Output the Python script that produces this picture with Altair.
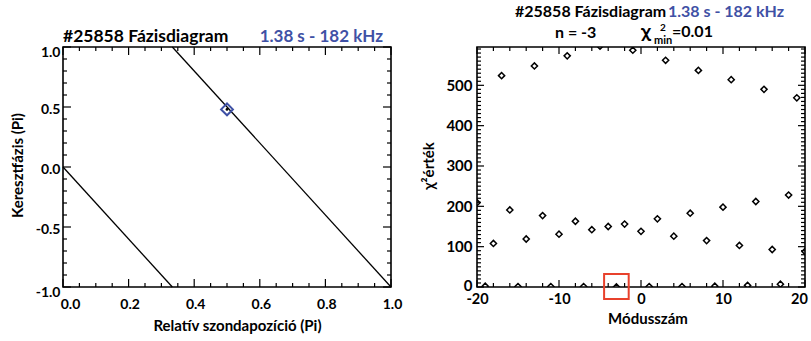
import altair as alt
import pandas as pd

# ---------------- left panel data ----------------
line_seg = ["a", "a", "b", "b"]
line_x = [0.0, 1 / 3, 1 / 3, 1.0]
line_y = [0.0, -1.0, 1.0, -1.0]
meas_x = [0.5]
meas_y = [0.48]

# ---------------- right panel data ----------------
modes = list(range(-20, 21))
chi2 = [209, 2, 108, 524, 191, 1, 119, 548, 177, 1, 131, 573, 163, 1, 142, 597,
        150, 0.01, 156, 587, 138, 1, 169, 562, 126, 1, 183, 537, 115, 2, 198, 514,
        103, 4, 212, 490, 93, 7, 228, 469, 88]
box_x = [-4.5]
box_x2 = [-1.5]
box_y = [-30]
box_y2 = [32]

# tick positions
lx_major = [0.0, 0.2, 0.4, 0.6, 0.8, 1.0]
lx_minor = [round(i * 0.05, 2) for i in range(21) if i % 4]
ly_major = [-1.0, -0.5, 0.0, 0.5, 1.0]
ly_minor = [round(-1 + i * 0.1, 2) for i in range(21) if i % 5]
rx_major = [-20, -10, 0, 10, 20]
rx_minor = [v for v in range(-20, 21, 2) if v % 10]
ry_major = [0, 100, 200, 300, 400, 500]
ry_minor = [v for v in range(0, 595, 10) if v % 100]

W, H = 328, 240
BLUE = "#3f51a5"
FONT = "Lato"

lx_scale = alt.Scale(domain=[0, 1], nice=False, zero=False)
ly_scale = alt.Scale(domain=[-1, 1], nice=False, zero=False)
rx_scale = alt.Scale(domain=[-20, 20], nice=False, zero=False)
ry_scale = alt.Scale(domain=[0, 595], nice=False, zero=False)

MINUS = "replace(format(datum.value, '{f}'), '\u2212', '-')"


def tick_layers(xmaj, xmin, ymaj, ymin, xs, ys, maj=7, mnr=4):
    layers = []
    for vals, L in ((xmaj, maj), (xmin, mnr)):
        base = alt.Chart(pd.DataFrame({"v": vals})).mark_rule(color="black", strokeWidth=1.2)
        layers.append(base.encode(x=alt.X("v:Q", scale=xs),
                                  y=alt.value(H), y2=alt.value(H - L)))
        layers.append(base.encode(x=alt.X("v:Q", scale=xs),
                                  y=alt.value(0), y2=alt.value(L)))
    for vals, L in ((ymaj, maj), (ymin, mnr)):
        base = alt.Chart(pd.DataFrame({"v": vals})).mark_rule(color="black", strokeWidth=1.2)
        layers.append(base.encode(y=alt.Y("v:Q", scale=ys),
                                  x=alt.value(0), x2=alt.value(L)))
        layers.append(base.encode(y=alt.Y("v:Q", scale=ys),
                                  x=alt.value(W), x2=alt.value(W - L)))
    return layers


def txt(t, x, y, size, color="black", align="left", font=FONT):
    return alt.Chart(pd.DataFrame({"t": [t]})).mark_text(
        align=align, baseline="alphabetic", fontSize=size, fontWeight="bold",
        font=font, color=color
    ).encode(text="t:N", x=alt.value(x), y=alt.value(y))


# ---------------- left panel ----------------
lines_df = pd.DataFrame({"seg": line_seg, "x": line_x, "y": line_y})
left_lines = alt.Chart(lines_df).mark_line(color="black", strokeWidth=1.3).encode(
    x=alt.X("x:Q", scale=lx_scale, axis=alt.Axis(
        values=lx_major, labelExpr=MINUS.format(f=".1f"),
        title="Relatív szondapozíció (Pi)", titleX=174, titleY=43,
        titleBaseline="alphabetic", labelPadding=21, labelBaseline="alphabetic",
        labelFontSize=14, labelFlush=False,
        labelOffset={"condition": {"test": "datum.value == 0", "value": 7}, "value": 1})),
    y=alt.Y("y:Q", scale=ly_scale, axis=alt.Axis(
        values=ly_major, labelExpr=MINUS.format(f=".1f"),
        title="Keresztfázis (Pi)", titleX=-45.5, titleY=118, titleBaseline="middle",
        labelPadding=3, labelBaseline="middle", labelFontSize=14, labelFlush=False,
        labelOffset={"condition": {"test": "abs(datum.value) == 1", "value": 5}, "value": 2})),
    detail="seg:N",
)
meas_df = pd.DataFrame({"x": meas_x, "y": meas_y})
left_meas = alt.Chart(meas_df).mark_point(
    shape="diamond", filled=False, color=BLUE, strokeWidth=2, size=140, opacity=1
).encode(x=alt.X("x:Q", scale=lx_scale), y=alt.Y("y:Q", scale=ly_scale))
left_dot = alt.Chart(meas_df).mark_point(
    shape="circle", filled=True, color="black", size=8, opacity=1
).encode(x=alt.X("x:Q", scale=lx_scale), y=alt.Y("y:Q", scale=ly_scale))

left = alt.layer(
    left_lines, left_meas, left_dot,
    *tick_layers(lx_major, lx_minor, ly_major, ly_minor, lx_scale, ly_scale, maj=8, mnr=4),
    txt("#25858 Fázisdiagram", 0, -5, 17.5),
    txt("1.38 s - 182 kHz", 320, -5, 17, color=BLUE, align="right"),
).properties(width=W, height=H)

# ---------------- right panel ----------------
chi_df = pd.DataFrame({"mode": modes, "chi2": chi2})
right_pts = alt.Chart(chi_df).mark_point(
    shape="diamond", filled=False, color="black", strokeWidth=1.5, size=38, opacity=1,
    clip=True
).encode(
    x=alt.X("mode:Q", scale=rx_scale, axis=alt.Axis(
        values=rx_major, labelExpr=MINUS.format(f="d"),
        title="Módusszám", titleX=170.5, titleY=36, titleBaseline="alphabetic",
        labelPadding=16, labelBaseline="alphabetic", labelFontSize=14.5, labelFlush=False,
        labelOffset={"condition": {"test": "datum.value == 20", "value": -6}, "value": 0})),
    y=alt.Y("chi2:Q", scale=ry_scale, axis=alt.Axis(
        values=ry_major, title="χ²érték", titleX=-48.5, titleY=118.5,
        titleBaseline="middle", labelPadding=5, labelBaseline="middle",
        labelFontSize=15, labelFlush=False,
        labelOffset={"condition": {"test": "datum.value == 0", "value": -2}, "value": 0})),
)
box_df = pd.DataFrame({"x": box_x, "x2": box_x2, "y": box_y, "y2": box_y2})
right_box = alt.Chart(box_df).mark_rect(
    filled=False, stroke="#e8412c", strokeWidth=2, clip=False
).encode(
    x=alt.X("x:Q", scale=rx_scale), x2="x2:Q",
    y=alt.Y("y:Q", scale=ry_scale), y2="y2:Q",
)

right = alt.layer(
    right_pts, right_box,
    *tick_layers(rx_major, rx_minor, ry_major, ry_minor, rx_scale, ry_scale, maj=7, mnr=4),
    txt("#25858 Fázisdiagram", 38, -30, 16),
    txt("1.38 s - 182 kHz", 191, -30, 16, color=BLUE),
    txt("n = -3", 78, -9, 16),
    txt("χ", 164, -10, 16, font="Noto Sans"),
    txt("2", 183, -16.5, 10),
    txt("min", 177, -3, 11),
    txt("=0.01", 195, -10, 16),
).properties(width=W, height=H)

chart = alt.hconcat(left, right, spacing=86, bounds="flush").properties(
    autosize=alt.AutoSizeParams(type="none"),
    padding={"left": 63, "top": 47, "right": 748, "bottom": 294},
).configure_view(
    stroke="black", strokeWidth=1.6
).configure_axis(
    domain=False, ticks=False, tickSize=0, grid=False,
    labelFont=FONT, labelFontWeight="bold", labelColor="black",
    titleFont=FONT, titleFontWeight="bold", titleFontSize=15, titleColor="black",
)

chart.save("out.html", embed_options={"renderer": "svg", "actions": False})
